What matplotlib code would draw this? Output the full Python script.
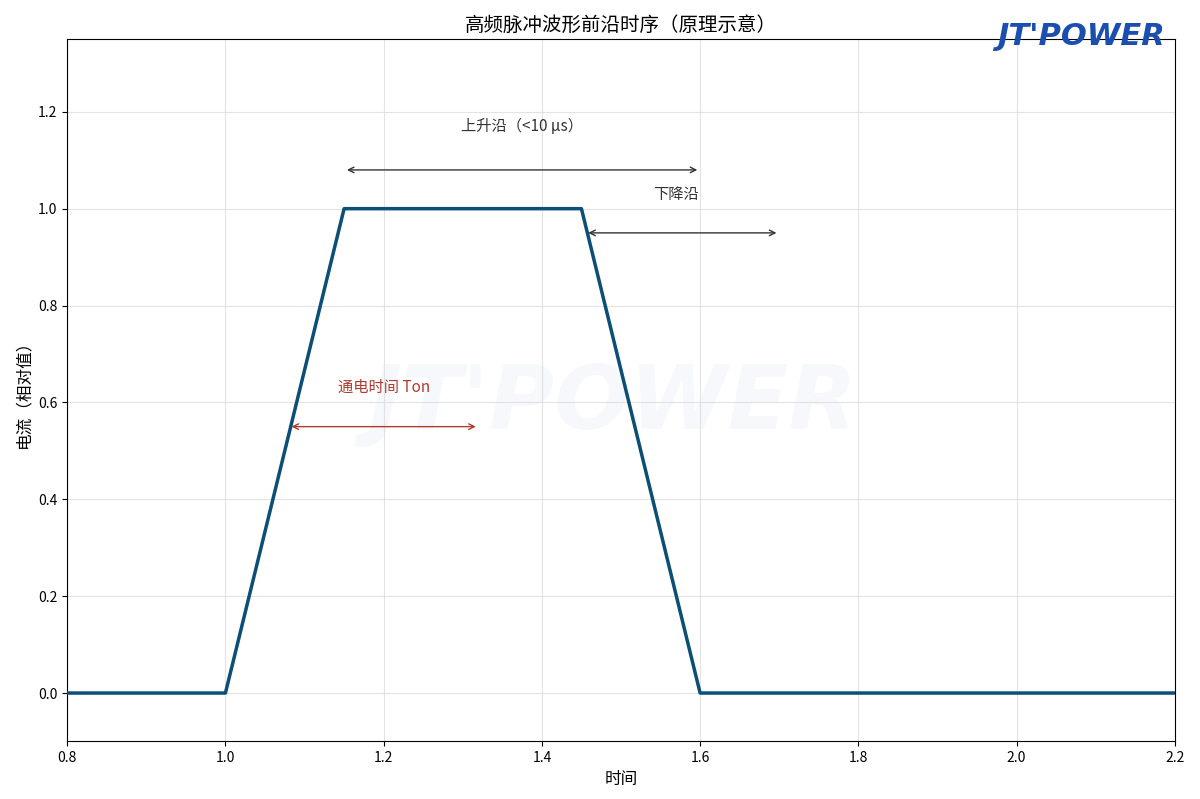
import matplotlib
matplotlib.use("Agg")
import matplotlib.pyplot as plt

plt.rcParams['font.family'] = ['Noto Sans CJK SC', 'DejaVu Sans']
plt.rcParams['axes.unicode_minus'] = False

# 波形数据（相对值）
t = [0.8, 1.0, 1.15, 1.45, 1.6, 2.2]
current = [0, 0, 1, 1, 0, 0]

xticks = [0.8, 1.0, 1.2, 1.4, 1.6, 1.8, 2.0, 2.2]
yticks = [0.0, 0.2, 0.4, 0.6, 0.8, 1.0, 1.2]

fig, ax = plt.subplots(figsize=(12, 7.99), dpi=100)
fig.subplots_adjust(left=0.056, right=0.979, top=0.951, bottom=0.072)

ax.plot(t, current, color='#0b4f77', linewidth=2.5, zorder=3)

# 标注箭头
ax.annotate('', xy=(1.15, 1.08), xytext=(1.6, 1.08),
            arrowprops=dict(arrowstyle='<->', color='#333333', lw=1))
ax.text(1.375, 1.17, '上升沿（<10 μs）', ha='center', va='center',
        fontsize=11, color='#333333')

ax.annotate('', xy=(1.455, 0.95), xytext=(1.7, 0.95),
            arrowprops=dict(arrowstyle='<->', color='#333333', lw=1))
ax.text(1.57, 1.03, '下降沿', ha='center', va='center',
        fontsize=11, color='#333333')

ax.annotate('', xy=(1.08, 0.55), xytext=(1.32, 0.55),
            arrowprops=dict(arrowstyle='<->', color='#b03a2e', lw=1))
ax.text(1.2, 0.632, '通电时间 Ton', ha='center', va='center',
        fontsize=11, color='#b03a2e')

# 水印
ax.text(1.49, 0.595, "JT'POWER", ha='center', va='center', fontsize=64,
        fontweight='bold', fontstyle='italic', color='#1a4fb0', alpha=0.035,
        family='DejaVu Sans', zorder=0)

ax.set_xlim(0.8, 2.2)
ax.set_ylim(-0.1, 1.35)
ax.set_xticks(xticks)
ax.set_yticks(yticks)
ax.set_xticklabels(['%.1f' % v for v in xticks])
ax.set_yticklabels(['%.1f' % v for v in yticks])
ax.tick_params(labelsize=10)
ax.grid(True, color='#dddddd', linewidth=0.8, alpha=0.8)

ax.set_title('高频脉冲波形前沿时序（原理示意）', fontsize=14)
ax.set_xlabel('时间', fontsize=12)
ax.set_ylabel('电流（相对值）', fontsize=12)

# 右上角标志
fig.text(0.901, 0.954, "JT'POWER", ha='center', va='center', fontsize=22,
         fontweight='bold', fontstyle='italic', color='#1a4fb0',
         family='DejaVu Sans')

fig.savefig('out.png', dpi=100)
